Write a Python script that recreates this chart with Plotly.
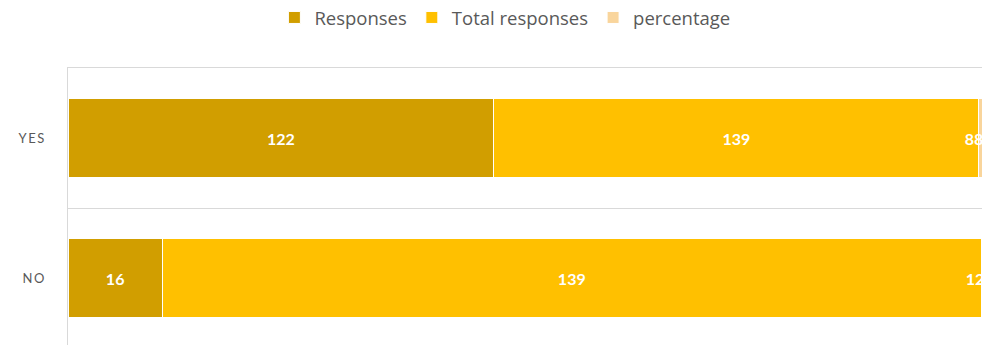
import plotly.graph_objects as go

# Survey answers per category
categories = ["YES", "NO"]
responses = [122, 16]
total_responses = [139, 139]
percentage = [0.88, 0.12]  # share of total responses

series_names = ["Responses", "Total responses", "percentage"]
colors = ["#D19E00", "#FFC000", "#F9D59C"]

# Letter-spaced category labels, as drawn on the axis
tick_text = ["\u2009".join(c) for c in categories]

label_fmt = [
    [str(v) for v in responses],
    [str(v) for v in total_responses],
    [f"{v * 100:.0f}%" for v in percentage],
]
values = [responses, total_responses, percentage]

fig = go.Figure()
for name, vals, color, txt in zip(series_names, values, colors, label_fmt):
    fig.add_trace(
        go.Bar(
            name=name,
            y=categories,
            x=vals,
            orientation="h",
            marker=dict(color=color, line=dict(color="white", width=1)),
            text=txt,
            textposition="inside",
            insidetextanchor="middle",
            textangle=0,
            constraintext="none",
            cliponaxis=False,
            textfont=dict(family="Lato", size=16, color="white", weight="bold"),
        )
    )

fig.update_layout(
    width=983,
    height=345,
    barmode="stack",
    barnorm="percent",
    bargap=0.43,
    plot_bgcolor="white",
    paper_bgcolor="white",
    margin=dict(l=68, r=1, t=68, b=0),
    font=dict(family="Lato", color="#595959"),
    legend=dict(
        orientation="h",
        traceorder="normal",
        xref="paper",
        x=0.478,
        xanchor="center",
        yref="container",
        y=0.948,
        yanchor="middle",
        font=dict(family="Open Sans", size=18.5, color="#595959"),
        itemwidth=30,
        tracegroupgap=0,
    ),
    xaxis=dict(
        range=[0, 100],
        side="top",
        showline=True,
        linecolor="#D9D9D9",
        linewidth=1,
        showgrid=False,
        zeroline=False,
        showticklabels=False,
        ticks="",
    ),
    yaxis=dict(
        type="category",
        categoryorder="array",
        categoryarray=categories[::-1],
        tickvals=categories,
        ticktext=tick_text,
        range=[-0.4786, 1.5],
        tickson="boundaries",
        showgrid=True,
        gridcolor="#D9D9D9",
        gridwidth=1,
        showline=True,
        linecolor="#D9D9D9",
        linewidth=1,
        ticks="",
        ticklabelstandoff=20,
        tickfont=dict(size=13, color="#595959"),
    ),
)

fig.write_html("out.html")
